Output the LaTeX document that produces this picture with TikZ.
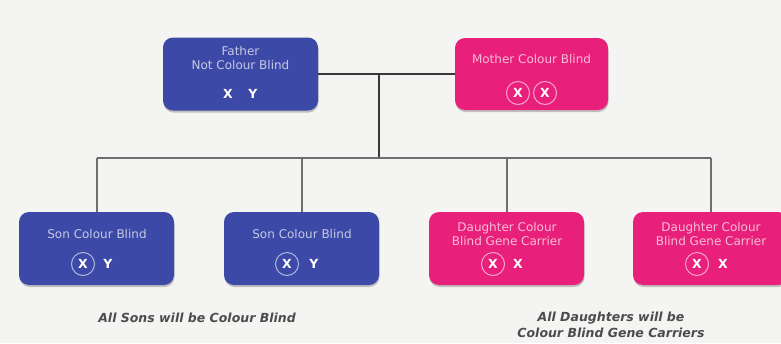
\documentclass[tikz,border=0pt]{standalone}
\usepackage{fontspec}
\setmainfont{DejaVu Sans}
\usetikzlibrary{shadows}
\definecolor{sonblue}{HTML}{3D49A7}
\definecolor{dauPink}{HTML}{E8207B}
\definecolor{paper}{HTML}{F4F4F3}
\definecolor{treeline}{HTML}{6E6E6E}
\begin{document}
\begin{tikzpicture}[x=1pt, y=-1pt]
\tikzset{ inner sep=0pt, outer sep=0pt,
  box/.style={rounded corners=10pt, minimum width=155pt, minimum height=73pt,
    drop shadow={shadow xshift=0.5pt, shadow yshift=-2pt, opacity=0.45}},
  bluebox/.style={box, fill=sonblue},
  pinkbox/.style={box, fill=dauPink},
  title/.style={font=\fontsize{12}{13.5}\selectfont, align=center, text=white, text opacity=0.7},
  gene/.style={font=\fontsize{12.5}{12.5}\bfseries, text=white},
  ringed/.style={gene, circle, draw=white, draw opacity=0.6, line width=1pt, minimum size=23pt},
  note/.style={font=\fontsize{12.5}{16}\selectfont\bfseries\itshape, text=black!70, align=center},
}

\useasboundingbox (0,0) rectangle (781,343);
\clip (0,0) rectangle (781,343);
\fill [paper] (0,0) rectangle (781,343);

% parents
\node [bluebox] (father) at (240.5,74) {};
\node [pinkbox, minimum width=153pt, minimum height=72pt] (mother) at (531.5,74) {};

\node [title] (fatherT) at (240.5,58) {Father\\Not Colour Blind};
\node [gene]  (fatherX) at (228,94) {X};
\node [gene]  (fatherY) at (253,94) {Y};

\node [title]  (motherT)  at (531.5,59) {Mother Colour Blind};
\node [ringed] (motherX1) at (518,93) {X};
\node [ringed] (motherX2) at (545,93) {X};

% children
\node [bluebox] (son1) at (96.5,248.5)  {};
\node [bluebox] (son2) at (301.5,248.5) {};
\node [pinkbox] (dau1) at (506.5,248.5) {};
\node [pinkbox] (dau2) at (710.5,248.5) {};

\node [title]  (son1T) at (97,234)  {Son Colour Blind};
\node [ringed] (son1X) at (83,264)  {X};
\node [gene]   (son1Y) at (108,264) {Y};

\node [title]  (son2T) at (302,234) {Son Colour Blind};
\node [ringed] (son2X) at (287,264) {X};
\node [gene]   (son2Y) at (314,264) {Y};

\node [title]  (dau1T)  at (507,234) {Daughter Colour\\Blind Gene Carrier};
\node [ringed] (dau1X1) at (493,264) {X};
\node [gene]   (dau1X2) at (518,264) {X};

\node [title]  (dau2T)  at (711,234) {Daughter Colour\\Blind Gene Carrier};
\node [ringed] (dau2X1) at (697,264) {X};
\node [gene]   (dau2X2) at (723,264) {X};

% tree lines
\coordinate (join)  at (379,74);
\coordinate (split) at (379,158);
\draw [black!78, line width=2pt] (father.east) -- (mother.west);
\draw [black!78, line width=2pt] (join) -- (split);
\draw [treeline, line width=2pt] (son1.north |- split) -- (dau2.north |- split);
\draw [treeline, line width=2pt] (son1.north |- split) -- (son1.north);
\draw [treeline, line width=2pt] (son2.north |- split) -- (son2.north);
\draw [treeline, line width=2pt] (dau1.north |- split) -- (dau1.north);
\draw [treeline, line width=2pt] (dau2.north |- split) -- (dau2.north);

% notes
\node [note] (sonsNote) at (197,318) {All Sons will be Colour Blind};
\node [note] (dausNote) at (611,325) {All Daughters will be\\Colour Blind Gene Carriers};

\end{tikzpicture}
\end{document}
